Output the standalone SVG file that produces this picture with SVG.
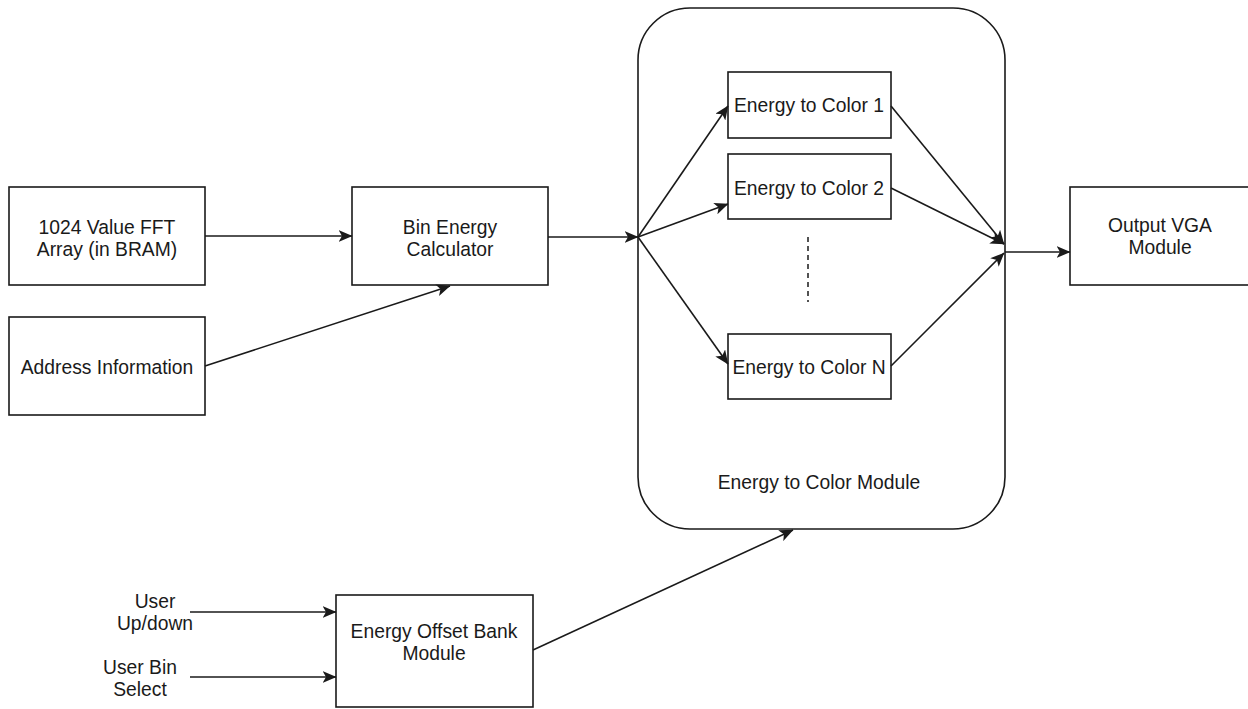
<svg xmlns="http://www.w3.org/2000/svg" width="1248" height="709" viewBox="0 0 1248 709">
  <style>
    .box { fill: #ffffff; stroke: #1a1a1a; stroke-width: 1.6; }
    .lbl { font-family: "Liberation Sans", Arial, Helvetica, sans-serif; font-size: 19.3px; fill: #1a1a1a; text-anchor: middle; }
    .edge { fill: none; stroke: #1a1a1a; stroke-width: 1.6; marker-end: url(#arrow); }
    .dash { fill: none; stroke: #1a1a1a; stroke-width: 1.5; stroke-dasharray: 5 4; }
  </style>
  <defs>
    <marker id="arrow" markerUnits="userSpaceOnUse" markerWidth="14" markerHeight="12" viewBox="0 0 14 12" refX="13.5" refY="6" orient="auto">
      <path d="M0,0 L14,6 L0,12 L3.5,6 Z" fill="#1a1a1a"/>
    </marker>
  </defs>
  <rect x="0" y="0" width="1248" height="709" fill="#ffffff"/>

  <g id="container">
    <rect class="box" x="638" y="8" width="367" height="521" rx="52" ry="52"/>
    <text class="lbl" x="819" y="489">Energy to Color Module</text>
  </g>

  <g id="fft">
    <rect class="box" x="9" y="187" width="196" height="98"/>
    <text class="lbl" x="107" y="234">1024 Value FFT</text>
    <text class="lbl" x="107" y="256">Array (in BRAM)</text>
  </g>

  <g id="address">
    <rect class="box" x="9" y="317" width="196" height="98"/>
    <text class="lbl" x="107" y="374">Address Information</text>
  </g>

  <g id="bin">
    <rect class="box" x="352" y="187" width="196" height="98"/>
    <text class="lbl" x="450" y="234">Bin Energy</text>
    <text class="lbl" x="450" y="256">Calculator</text>
  </g>

  <g id="e1">
    <rect class="box" x="728" y="72" width="163" height="66"/>
    <text class="lbl" x="809" y="112">Energy to Color 1</text>
  </g>

  <g id="e2">
    <rect class="box" x="728" y="154" width="163" height="65"/>
    <text class="lbl" x="809" y="195">Energy to Color 2</text>
  </g>

  <g id="ellipsis">
    <line class="dash" x1="808" y1="237" x2="808" y2="302"/>
  </g>

  <g id="en">
    <rect class="box" x="728" y="334" width="163" height="65"/>
    <text class="lbl" x="809" y="374">Energy to Color N</text>
  </g>

  <g id="output">
    <rect class="box" x="1070" y="187" width="180" height="98"/>
    <text class="lbl" x="1160" y="232">Output VGA</text>
    <text class="lbl" x="1160" y="254">Module</text>
  </g>

  <g id="offset">
    <rect class="box" x="336" y="595" width="197" height="112"/>
    <text class="lbl" x="434" y="638">Energy Offset Bank</text>
    <text class="lbl" x="434" y="660">Module</text>
  </g>

  <g id="user-updown">
    <text class="lbl" x="155" y="608">User</text>
    <text class="lbl" x="155" y="630">Up/down</text>
  </g>

  <g id="user-bin">
    <text class="lbl" x="140" y="674">User Bin</text>
    <text class="lbl" x="140" y="696">Select</text>
  </g>

  <g id="connectors">
    <line class="edge" x1="205" y1="236" x2="352" y2="236"/>
    <line class="edge" x1="205" y1="366" x2="450" y2="286"/>
    <line class="edge" x1="548" y1="237" x2="638" y2="237"/>
    <line class="edge" x1="638" y1="237" x2="728" y2="106"/>
    <line class="edge" x1="638" y1="237" x2="728" y2="204"/>
    <line class="edge" x1="638" y1="237" x2="728" y2="364"/>
    <line class="edge" x1="891" y1="106" x2="1004" y2="244"/>
    <line class="edge" x1="891" y1="188" x2="1004" y2="244"/>
    <line class="edge" x1="891" y1="366" x2="1004" y2="253"/>
    <line class="edge" x1="1005" y1="252" x2="1070" y2="252"/>
    <line class="edge" x1="190" y1="612" x2="336" y2="612"/>
    <line class="edge" x1="190" y1="677" x2="336" y2="677"/>
    <line class="edge" x1="533" y1="650" x2="793" y2="530"/>
  </g>
</svg>
